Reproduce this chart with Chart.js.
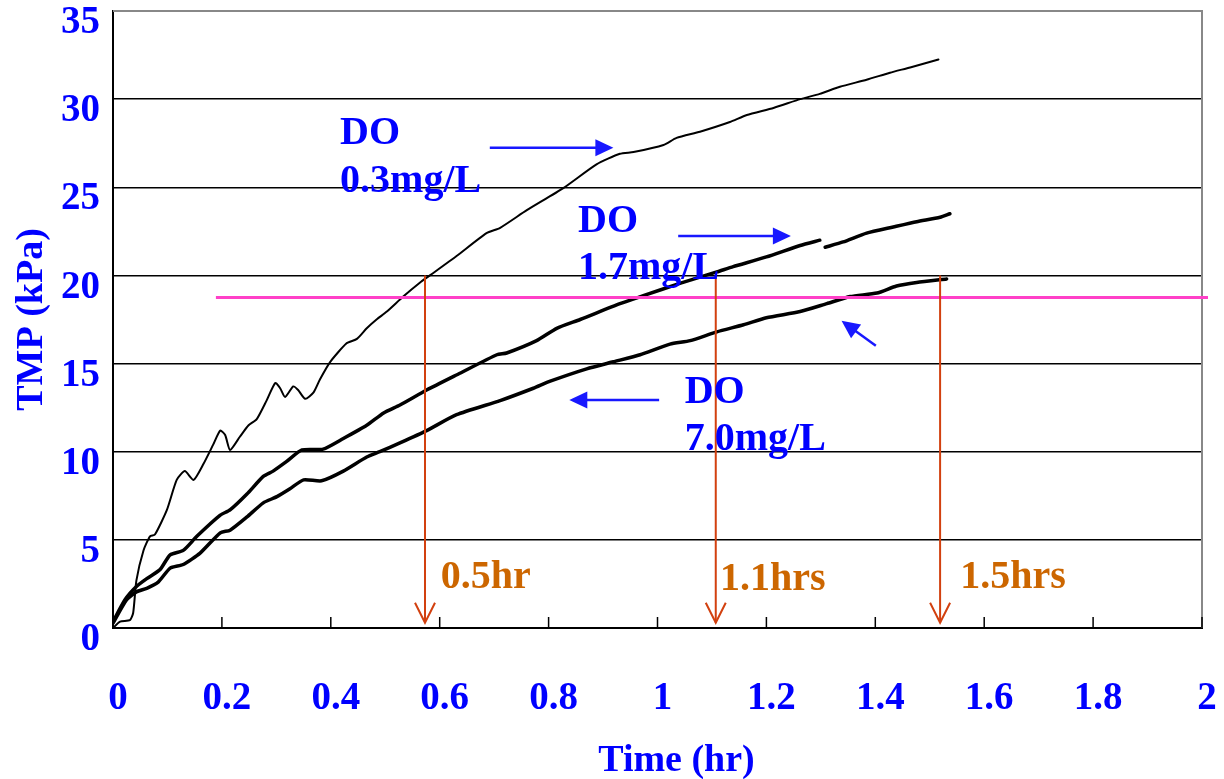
<!DOCTYPE html>
<html>
<head>
<meta charset="utf-8">
<script src="https://cdn.jsdelivr.net/npm/chart.js@4.4.1/dist/chart.umd.min.js"></script>
<style>
  html, body { margin: 0; padding: 0; background: #fff; }
</style>
</head>
<body>
<canvas id="chart" width="1224" height="779"></canvas>
<script>
// TMP vs time
const do03Time = [0, 0.013, 0.031, 0.037, 0.043, 0.056, 0.068, 0.077, 0.099, 0.117, 0.132, 0.148, 0.166, 0.184, 0.197, 0.206, 0.215, 0.233, 0.249, 0.264, 0.282, 0.298, 0.307, 0.316, 0.331, 0.340, 0.353, 0.368, 0.380, 0.399, 0.429, 0.448, 0.466, 0.484, 0.503, 0.533, 0.564, 0.582, 0.631, 0.686, 0.711, 0.760, 0.827, 0.888, 0.931, 0.956, 1.011, 1.035, 1.078, 1.133, 1.164, 1.213, 1.262, 1.298, 1.335, 1.384, 1.427, 1.464, 1.516];
const do03Tmp = [0, 0.36, 0.45, 0.85, 2.7, 4.4, 5.2, 5.3, 6.7, 8.4, 8.9, 8.4, 9.3, 10.4, 11.2, 10.95, 10.1, 10.85, 11.5, 11.85, 12.9, 13.9, 13.6, 13.1, 13.7, 13.5, 13.0, 13.35, 14.1, 15.1, 16.15, 16.4, 17.0, 17.5, 17.95, 18.8, 19.6, 20.0, 21.1, 22.4, 22.7, 23.7, 24.95, 26.3, 26.9, 27.0, 27.4, 27.8, 28.15, 28.7, 29.1, 29.5, 30.0, 30.3, 30.7, 31.1, 31.5, 31.8, 32.25];

const do17Time = [0, 0.022, 0.043, 0.062, 0.086, 0.105, 0.129, 0.154, 0.197, 0.215, 0.246, 0.276, 0.294, 0.319, 0.347, 0.386, 0.423, 0.466, 0.497, 0.527, 0.576, 0.637, 0.705, 0.723, 0.778, 0.815, 0.858, 0.931, 0.974, 1.041, 1.109, 1.139, 1.200, 1.262, 1.298, 1.303, 1.308, 1.341, 1.384, 1.433, 1.476, 1.519, 1.537];
const do17Tmp = [0.36, 1.6, 2.35, 2.8, 3.3, 4.15, 4.4, 5.2, 6.4, 6.7, 7.6, 8.6, 8.9, 9.45, 10.1, 10.15, 10.75, 11.5, 12.2, 12.65, 13.5, 14.45, 15.5, 15.6, 16.3, 17.0, 17.5, 18.4, 18.85, 19.55, 20.2, 20.5, 21.05, 21.7, 22.0, null, 21.6, 21.9, 22.4, 22.75, 23.05, 23.3, 23.5];

const do70Time = [0, 0.025, 0.043, 0.062, 0.083, 0.105, 0.129, 0.160, 0.197, 0.215, 0.246, 0.276, 0.301, 0.325, 0.350, 0.383, 0.423, 0.466, 0.490, 0.527, 0.576, 0.631, 0.711, 0.772, 0.803, 0.870, 0.919, 0.968, 1.023, 1.060, 1.109, 1.158, 1.200, 1.262, 1.311, 1.354, 1.403, 1.439, 1.476, 1.531];
const do70Tmp = [0.27, 1.6, 2.05, 2.25, 2.6, 3.4, 3.6, 4.25, 5.4, 5.55, 6.3, 7.1, 7.45, 7.9, 8.4, 8.35, 8.9, 9.7, 10.0, 10.5, 11.2, 12.1, 12.9, 13.6, 14.0, 14.7, 15.1, 15.5, 16.1, 16.3, 16.8, 17.2, 17.6, 17.95, 18.4, 18.8, 19.0, 19.4, 19.6, 19.8];

const xTickValues = [0, 0.2, 0.4, 0.6, 0.8, 1, 1.2, 1.4, 1.6, 1.8, 2];
const xTickLabels = ['0', '0.2', '0.4', '0.6', '0.8', '1', '1.2', '1.4', '1.6', '1.8', '2'];
const yTickValues = [0, 5, 10, 15, 20, 25, 30, 35];
const yTickLabels = ['0', '5', '10', '15', '20', '25', '30', '35'];

const thresholdTmp = 18.75;
const markTimes = [0.573, 1.107, 1.519];
const markLabels = ['0.5hr', '1.1hrs', '1.5hrs'];
const curveNames = ['DO', 'DO', 'DO'];
const curveDoses = ['0.3mg/L', '1.7mg/L', '7.0mg/L'];

// where the annotations sit, in data units
const markLabelPos = [[0.602, 2.84], [1.115, 2.72], [1.556, 2.84]];
const curveLabelPos = [[0.417, 27.45, 24.73], [0.854, 22.48, 19.8], [1.050, 12.74, 10.1]];
const blueArrows = [
  [0.692, 27.24, 0.919, 27.24],
  [1.038, 22.23, 1.245, 22.23],
  [1.003, 12.93, 0.838, 12.93],
  [1.401, 16.01, 1.338, 17.43]
];

const FONT = '"Liberation Serif", "Times New Roman", serif';
const BLUE = '#0000FF';

function pts(xs, ys) {
  return xs.map((t, i) => ({ x: t, y: ys[i] }));
}

function drawArrow(ctx, x1, y1, x2, y2, color, width, headLen, headHalf, open) {
  const ang = Math.atan2(y2 - y1, x2 - x1);
  const cos = Math.cos(ang), sin = Math.sin(ang);
  const bx = x2 - headLen * cos, by = y2 - headLen * sin;
  ctx.save();
  ctx.strokeStyle = color;
  ctx.fillStyle = color;
  ctx.lineWidth = width;
  ctx.beginPath();
  ctx.moveTo(x1, y1);
  if (open) ctx.lineTo(x2, y2);
  else ctx.lineTo(bx + 2 * cos, by + 2 * sin);
  ctx.stroke();
  ctx.beginPath();
  ctx.moveTo(bx - headHalf * sin, by + headHalf * cos);
  ctx.lineTo(x2, y2);
  ctx.lineTo(bx + headHalf * sin, by - headHalf * cos);
  if (open) ctx.stroke();
  else { ctx.closePath(); ctx.fill(); }
  ctx.restore();
}

const frame = {
  id: 'frame',
  beforeDatasetsDraw(chart) {
    const { ctx, chartArea: a, scales: { x } } = chart;
    ctx.save();
    ctx.strokeStyle = '#888';
    ctx.lineWidth = 2;
    ctx.beginPath();
    ctx.moveTo(a.left, a.top);
    ctx.lineTo(a.right, a.top);
    ctx.lineTo(a.right, a.bottom);
    ctx.stroke();
    ctx.strokeStyle = '#000';
    ctx.lineWidth = 1.5;
    x.ticks.forEach(t => {
      const px = x.getPixelForValue(t.value);
      ctx.beginPath();
      ctx.moveTo(px, a.bottom);
      ctx.lineTo(px, a.bottom - 11);
      ctx.stroke();
    });
    ctx.restore();
  }
};

const annotate = {
  id: 'annotate',
  afterDatasetsDraw(chart) {
    const { ctx, scales: { x, y } } = chart;
    ctx.save();

    // threshold line
    ctx.strokeStyle = '#FF40C8';
    ctx.lineWidth = 3;
    ctx.beginPath();
    ctx.moveTo(x.getPixelForValue(0.189), y.getPixelForValue(thresholdTmp));
    ctx.lineTo(x.getPixelForValue(2.011), y.getPixelForValue(thresholdTmp));
    ctx.stroke();

    // time markers
    markTimes.forEach(t => {
      const px = x.getPixelForValue(t);
      drawArrow(ctx, px, y.getPixelForValue(20), px, y.getPixelForValue(0.3), '#D2400F', 2, 20, 10, true);
    });

    ctx.font = 'bold 40px ' + FONT;
    ctx.textAlign = 'left';
    ctx.textBaseline = 'middle';
    ctx.fillStyle = '#CC6600';
    markLabels.forEach((s, i) => {
      ctx.fillText(s, x.getPixelForValue(markLabelPos[i][0]), y.getPixelForValue(markLabelPos[i][1]));
    });

    ctx.textBaseline = 'alphabetic';
    ctx.fillStyle = BLUE;
    curveNames.forEach((s, i) => {
      const p = curveLabelPos[i];
      ctx.fillText(s, x.getPixelForValue(p[0]), y.getPixelForValue(p[1]));
      ctx.fillText(curveDoses[i], x.getPixelForValue(p[0]), y.getPixelForValue(p[2]));
    });

    blueArrows.forEach(a => {
      drawArrow(ctx, x.getPixelForValue(a[0]), y.getPixelForValue(a[1]),
        x.getPixelForValue(a[2]), y.getPixelForValue(a[3]), '#1818FF', 2.5, 18, 8.5, false);
    });
    ctx.restore();
  }
};

new Chart(document.getElementById('chart').getContext('2d'), {
  type: 'line',
  data: {
    datasets: [
      { data: pts(do03Time, do03Tmp), borderColor: '#000', borderWidth: 2 },
      { data: pts(do17Time, do17Tmp), borderColor: '#000', borderWidth: 3.5 },
      { data: pts(do70Time, do70Tmp), borderColor: '#000', borderWidth: 3.5 }
    ]
  },
  options: {
    responsive: false,
    animation: false,
    spanGaps: false,
    layout: { padding: { top: 11, right: 22, left: 0, bottom: 0 } },
    elements: {
      point: { radius: 0 },
      line: { tension: 0.2, borderJoinStyle: 'round', borderCapStyle: 'round', fill: false }
    },
    plugins: { legend: { display: false }, tooltip: { enabled: false } },
    scales: {
      x: {
        type: 'linear',
        min: 0,
        max: 2,
        afterBuildTicks: s => { s.ticks = xTickValues.map(v => ({ value: v })); },
        afterFit: s => { s.height = 151; s.paddingLeft = 0; s.paddingRight = 0; },
        grid: { display: false },
        border: { color: '#000', width: 2 },
        ticks: {
          autoSkip: false,
          maxRotation: 0,
          padding: 40,
          labelOffset: 5,
          color: BLUE,
          font: { family: FONT, size: 39, weight: 'bold' },
          callback: (v, i) => xTickLabels[i]
        },
        title: {
          display: true,
          text: '\u2003Time (hr)',
          color: BLUE,
          padding: { top: 0, bottom: -1 },
          font: { family: FONT, size: 38, weight: 'bold', lineHeight: 1 }
        }
      },
      y: {
        min: 0,
        max: 35,
        afterBuildTicks: s => { s.ticks = yTickValues.map(v => ({ value: v })); },
        afterFit: s => { s.width = 113; s.paddingTop = 0; s.paddingBottom = 0; },
        grid: {
          drawTicks: false,
          lineWidth: 1.5,
          color: c => (c.tick && c.tick.value === 35 ? '#888' : '#000')
        },
        border: { color: '#000', width: 2 },
        ticks: {
          padding: 13,
          labelOffset: 12,
          color: BLUE,
          font: { family: FONT, size: 39, weight: 'bold' },
          callback: (v, i) => yTickLabels[i]
        },
        title: {
          display: true,
          text: 'TMP (kPa)',
          color: BLUE,
          padding: { top: 13, bottom: 0 },
          font: { family: FONT, size: 38, weight: 'bold', lineHeight: 1 }
        }
      }
    }
  },
  plugins: [frame, annotate]
});
</script>
</body>
</html>
